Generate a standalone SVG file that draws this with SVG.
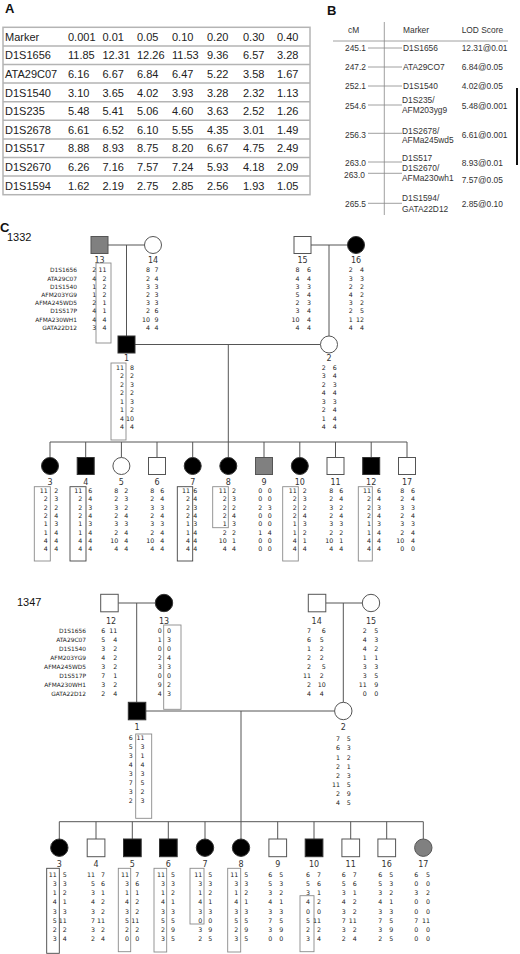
<svg xmlns="http://www.w3.org/2000/svg" width="520" height="954" viewBox="0 0 520 954">
<style>
.pl{font-family:"Liberation Sans",Arial,sans-serif;font-weight:bold;font-size:13px;fill:#111}
.ta{font-family:"Liberation Sans",Arial,sans-serif;font-size:11px;fill:#222}
.tb{font-family:"Liberation Sans",Arial,sans-serif;font-size:8.4px;fill:#333}
.e{text-anchor:end}
.fam{font-family:"Liberation Sans",Arial,sans-serif;font-size:11px;fill:#111}
.g{font-family:"DejaVu Sans",Verdana,sans-serif;font-size:6.3px;fill:#222;text-anchor:end}
.mk{font-family:"DejaVu Sans",Verdana,sans-serif;font-size:5.9px;fill:#222;text-anchor:end}
.id{font-family:"DejaVu Sans",Verdana,sans-serif;font-size:8px;fill:#333;text-anchor:middle}
.bx{fill:none;stroke:#8a8a8a;stroke-width:0.9}
.bxd{fill:none;stroke:#444;stroke-width:0.9}
.ln{stroke:#555;stroke-width:1;fill:none}
.aff{fill:#000;stroke:#333;stroke-width:1}
.un{fill:#fff;stroke:#555;stroke-width:1}
.gr{fill:#808080;stroke:#555;stroke-width:1}
.grid{stroke:#b4b4b4;stroke-width:1.5;fill:none}
.bl{stroke:#888;stroke-width:0.8;fill:none}
</style>
<rect x="0" y="0" width="520" height="954" fill="#fff"/>

<g id="panelA">
<text class="pl" x="5" y="13">A</text>
<rect class="grid" x="3" y="27.3" width="307" height="167.4"/>
<path class="grid" d="M3 45.9H310M3 64.5H310M3 83.1H310M3 101.7H310M3 120.3H310M3 138.9H310M3 157.5H310M3 176.1H310"/>
<text class="ta" x="5" y="40.7">Marker<tspan x="5" dy="18.6">D1S1656</tspan><tspan x="5" dy="18.6">ATA29C07</tspan><tspan x="5" dy="18.6">D1S1540</tspan><tspan x="5" dy="18.6">D1S235</tspan><tspan x="5" dy="18.6">D1S2678</tspan><tspan x="5" dy="18.6">D1S517</tspan><tspan x="5" dy="18.6">D1S2670</tspan><tspan x="5" dy="18.6">D1S1594</tspan></text>
<text class="ta" x="68" y="40.7">0.001<tspan x="68" dy="18.6">11.85</tspan><tspan x="68" dy="18.6">6.16</tspan><tspan x="68" dy="18.6">3.10</tspan><tspan x="68" dy="18.6">5.48</tspan><tspan x="68" dy="18.6">6.61</tspan><tspan x="68" dy="18.6">8.88</tspan><tspan x="68" dy="18.6">6.26</tspan><tspan x="68" dy="18.6">1.62</tspan></text>
<text class="ta" x="102.5" y="40.7">0.01<tspan x="102.5" dy="18.6">12.31</tspan><tspan x="102.5" dy="18.6">6.67</tspan><tspan x="102.5" dy="18.6">3.65</tspan><tspan x="102.5" dy="18.6">5.41</tspan><tspan x="102.5" dy="18.6">6.52</tspan><tspan x="102.5" dy="18.6">8.93</tspan><tspan x="102.5" dy="18.6">7.16</tspan><tspan x="102.5" dy="18.6">2.19</tspan></text>
<text class="ta" x="137" y="40.7">0.05<tspan x="137" dy="18.6">12.26</tspan><tspan x="137" dy="18.6">6.84</tspan><tspan x="137" dy="18.6">4.02</tspan><tspan x="137" dy="18.6">5.06</tspan><tspan x="137" dy="18.6">6.10</tspan><tspan x="137" dy="18.6">8.75</tspan><tspan x="137" dy="18.6">7.57</tspan><tspan x="137" dy="18.6">2.75</tspan></text>
<text class="ta" x="172" y="40.7">0.10<tspan x="172" dy="18.6">11.53</tspan><tspan x="172" dy="18.6">6.47</tspan><tspan x="172" dy="18.6">3.93</tspan><tspan x="172" dy="18.6">4.60</tspan><tspan x="172" dy="18.6">5.55</tspan><tspan x="172" dy="18.6">8.20</tspan><tspan x="172" dy="18.6">7.24</tspan><tspan x="172" dy="18.6">2.85</tspan></text>
<text class="ta" x="207" y="40.7">0.20<tspan x="207" dy="18.6">9.36</tspan><tspan x="207" dy="18.6">5.22</tspan><tspan x="207" dy="18.6">3.28</tspan><tspan x="207" dy="18.6">3.63</tspan><tspan x="207" dy="18.6">4.35</tspan><tspan x="207" dy="18.6">6.67</tspan><tspan x="207" dy="18.6">5.93</tspan><tspan x="207" dy="18.6">2.56</tspan></text>
<text class="ta" x="243" y="40.7">0.30<tspan x="243" dy="18.6">6.57</tspan><tspan x="243" dy="18.6">3.58</tspan><tspan x="243" dy="18.6">2.32</tspan><tspan x="243" dy="18.6">2.52</tspan><tspan x="243" dy="18.6">3.01</tspan><tspan x="243" dy="18.6">4.75</tspan><tspan x="243" dy="18.6">4.18</tspan><tspan x="243" dy="18.6">1.93</tspan></text>
<text class="ta" x="277" y="40.7">0.40<tspan x="277" dy="18.6">3.28</tspan><tspan x="277" dy="18.6">1.67</tspan><tspan x="277" dy="18.6">1.13</tspan><tspan x="277" dy="18.6">1.26</tspan><tspan x="277" dy="18.6">1.49</tspan><tspan x="277" dy="18.6">2.49</tspan><tspan x="277" dy="18.6">2.09</tspan><tspan x="277" dy="18.6">1.05</tspan></text>
</g>

<g id="panelB">
<text class="pl" x="327" y="15">B</text>
<path class="bl" d="M384.3 22V215M333 41H508"/>
<path class="bl" d="M368 48H402M368 67H402M368 86H402M368 105H402M368 133.3H402M368 162H402M368 173.3H402M368 203.3H402"/>
<path d="M517 88V165" stroke="#111" stroke-width="2"/>
<text class="tb" x="348" y="33">cM</text>
<text class="tb" x="403" y="33">Marker</text>
<text class="tb" x="461.7" y="33">LOD Score</text>
<text class="tb e" x="366" y="51.3">245.1<tspan x="366" y="70.3">247.2</tspan><tspan x="366" y="89.3">252.1</tspan><tspan x="366" y="109.3">254.6</tspan><tspan x="366" y="138.3">256.3</tspan><tspan x="366" y="166.3">263.0</tspan><tspan x="365" y="178.3">263.0</tspan><tspan x="366" y="207.3">265.5</tspan></text>
<text class="tb" x="403" y="51.3">D1S1656<tspan x="403" y="70.3">ATA29CO7</tspan><tspan x="403" y="89.3">D1S1540</tspan><tspan x="402" y="103.3">D1S235/</tspan><tspan x="402" y="113.3">AFM203yg9</tspan><tspan x="402" y="134">D1S2678/</tspan><tspan x="402" y="143.3">AFMa245wd5</tspan><tspan x="402" y="161.3">D1S517</tspan><tspan x="402" y="171.3">D1S2670/</tspan><tspan x="402" y="181.3">AFMa230wh1</tspan><tspan x="402" y="201.3">D1S1594/</tspan><tspan x="402" y="212">GATA22D12</tspan></text>
<text class="tb" x="461.7" y="51.3">12.31@0.01<tspan x="461.7" y="70.3">6.84@0.05</tspan><tspan x="461.7" y="89.3">4.02@0.05</tspan><tspan x="461.7" y="109.3">5.48@0.001</tspan><tspan x="461.7" y="138.3">6.61@0.001</tspan><tspan x="461.7" y="166.3">8.93@0.01</tspan><tspan x="461.7" y="183.3">7.57@0.05</tspan><tspan x="461.7" y="207.3">2.85@0.10</tspan></text>
</g>

<text class="pl" x="0" y="232">C</text>
<text class="fam" x="7" y="241">1332</text>
<text class="fam" x="17" y="606">1347</text>

<g id="connectors">
<path class="ln" d="M108 245H144.5M126.5 245V336M311 245H347.5M329 245V336M135 344.5H320.5M228.3 344.5V442M50 442H407M50 442V457.5M85.7 442V457.5M121.4 442V457.5M157 442V457.5M192.7 442V457.5M228.3 442V457.5M264 442V457.5M299.8 442V457.5M335.5 442V457.5M371.2 442V457.5M407 442V457.5"/>
<path class="ln" d="M118.2 603H155.3M136.7 603V702.3M325.8 603H362.3M343.3 603V702.3M145.8 711H334.6M241 711V821.7M59.3 821.7H423.3M59.3 821.7V839M96 821.7V839M132.3 821.7V839M168.3 821.7V839M205 821.7V839M241 821.7V839M277.7 821.7V839M314 821.7V839M350.7 821.7V839M386.7 821.7V839M423.3 821.7V839"/>
</g>

<g id="markers1332">
<text class="mk" x="77" y="272.3">D1S1656<tspan x="77" dy="8.2">ATA29C07</tspan><tspan x="77" dy="8.2">D1S1540</tspan><tspan x="77" dy="8.2">AFM203YG9</tspan><tspan x="77" dy="8.2">AFMA245WD5</tspan><tspan x="77" dy="8.2">D1S517P</tspan><tspan x="77" dy="8.2">AFMA230WH1</tspan><tspan x="77" dy="8.2">GATA22D12</tspan></text>
</g>

<g id="f1332-13">
<rect class="gr" x="91" y="236.5" width="17" height="17"/>
<text class="id" x="99.5" y="263">13</text>
<rect class="bx" x="96" y="263" width="15" height="80"/>
<text class="g" x="96.3" y="272.3">2<tspan x="96.3" dy="8.2">4</tspan><tspan x="96.3" dy="8.2">1</tspan><tspan x="96.3" dy="8.2">1</tspan><tspan x="96.3" dy="8.2">2</tspan><tspan x="96.3" dy="8.2">4</tspan><tspan x="96.3" dy="8.2">4</tspan><tspan x="96.3" dy="8.2">3</tspan></text>
<text class="g" x="106.5" y="272.3">11<tspan x="106.5" dy="8.2">2</tspan><tspan x="106.5" dy="8.2">2</tspan><tspan x="106.5" dy="8.2">2</tspan><tspan x="106.5" dy="8.2">1</tspan><tspan x="106.5" dy="8.2">1</tspan><tspan x="106.5" dy="8.2">4</tspan><tspan x="106.5" dy="8.2">4</tspan></text>
</g>
<g id="f1332-14">
<circle class="un" cx="153" cy="245" r="8.5"/>
<text class="id" x="153" y="263">14</text>
<text class="g" x="150" y="272.3">8<tspan x="150" dy="8.2">2</tspan><tspan x="150" dy="8.2">3</tspan><tspan x="150" dy="8.2">2</tspan><tspan x="150" dy="8.2">3</tspan><tspan x="150" dy="8.2">2</tspan><tspan x="150" dy="8.2">10</tspan><tspan x="150" dy="8.2">4</tspan></text>
<text class="g" x="158.5" y="272.3">7<tspan x="158.5" dy="8.2">4</tspan><tspan x="158.5" dy="8.2">3</tspan><tspan x="158.5" dy="8.2">3</tspan><tspan x="158.5" dy="8.2">3</tspan><tspan x="158.5" dy="8.2">6</tspan><tspan x="158.5" dy="8.2">9</tspan><tspan x="158.5" dy="8.2">4</tspan></text>
</g>
<g id="f1332-15">
<rect class="un" x="294" y="236.5" width="17" height="17"/>
<text class="id" x="302.5" y="263">15</text>
<text class="g" x="299.5" y="272.3">8<tspan x="299.5" dy="8.2">4</tspan><tspan x="299.5" dy="8.2">3</tspan><tspan x="299.5" dy="8.2">5</tspan><tspan x="299.5" dy="8.2">2</tspan><tspan x="299.5" dy="8.2">3</tspan><tspan x="299.5" dy="8.2">10</tspan><tspan x="299.5" dy="8.2">4</tspan></text>
<text class="g" x="311" y="272.3">6<tspan x="311" dy="8.2">4</tspan><tspan x="311" dy="8.2">3</tspan><tspan x="311" dy="8.2">4</tspan><tspan x="311" dy="8.2">3</tspan><tspan x="311" dy="8.2">4</tspan><tspan x="311" dy="8.2">4</tspan><tspan x="311" dy="8.2">4</tspan></text>
</g>
<g id="f1332-16">
<circle class="aff" cx="356" cy="245" r="8.5"/>
<text class="id" x="356" y="263">16</text>
<text class="g" x="352.7" y="272.3">2<tspan x="352.7" dy="8.2">3</tspan><tspan x="352.7" dy="8.2">2</tspan><tspan x="352.7" dy="8.2">4</tspan><tspan x="352.7" dy="8.2">3</tspan><tspan x="352.7" dy="8.2">2</tspan><tspan x="352.7" dy="8.2">1</tspan><tspan x="352.7" dy="8.2">4</tspan></text>
<text class="g" x="364" y="272.3">4<tspan x="364" dy="8.2">3</tspan><tspan x="364" dy="8.2">2</tspan><tspan x="364" dy="8.2">2</tspan><tspan x="364" dy="8.2">2</tspan><tspan x="364" dy="8.2">5</tspan><tspan x="364" dy="8.2">12</tspan><tspan x="364" dy="8.2">4</tspan></text>
</g>
<g id="f1332-1">
<rect class="aff" x="118" y="336" width="17" height="17"/>
<text class="id" x="126.5" y="360.5">1</text>
<rect class="bx" x="111" y="363" width="15" height="77"/>
<text class="g" x="124" y="369.6">11<tspan x="124" dy="8.5">2</tspan><tspan x="124" dy="8.5">2</tspan><tspan x="124" dy="8.5">2</tspan><tspan x="124" dy="8.5">1</tspan><tspan x="124" dy="8.5">1</tspan><tspan x="124" dy="8.5">4</tspan><tspan x="124" dy="8.5">4</tspan></text>
<text class="g" x="134" y="369.6">8<tspan x="134" dy="8.5">2</tspan><tspan x="134" dy="8.5">3</tspan><tspan x="134" dy="8.5">2</tspan><tspan x="134" dy="8.5">3</tspan><tspan x="134" dy="8.5">2</tspan><tspan x="134" dy="8.5">10</tspan><tspan x="134" dy="8.5">4</tspan></text>
</g>
<g id="f1332-2">
<circle class="un" cx="329" cy="344.5" r="8.5"/>
<text class="id" x="329" y="360.5">2</text>
<text class="g" x="325.7" y="369.6">2<tspan x="325.7" dy="8.5">3</tspan><tspan x="325.7" dy="8.5">2</tspan><tspan x="325.7" dy="8.5">4</tspan><tspan x="325.7" dy="8.5">3</tspan><tspan x="325.7" dy="8.5">2</tspan><tspan x="325.7" dy="8.5">1</tspan><tspan x="325.7" dy="8.5">4</tspan></text>
<text class="g" x="336.7" y="369.6">6<tspan x="336.7" dy="8.5">4</tspan><tspan x="336.7" dy="8.5">3</tspan><tspan x="336.7" dy="8.5">4</tspan><tspan x="336.7" dy="8.5">3</tspan><tspan x="336.7" dy="8.5">4</tspan><tspan x="336.7" dy="8.5">4</tspan><tspan x="336.7" dy="8.5">4</tspan></text>
</g>

<g id="f1332-3">
<circle class="aff" cx="50" cy="466" r="8.5"/>
<text class="id" x="50" y="484.5">3</text>
<rect class="bx" x="34.3" y="486.7" width="16" height="74.3"/>
<text class="g" x="47.7" y="493">11<tspan x="47.7" dy="8.35">2</tspan><tspan x="47.7" dy="8.35">2</tspan><tspan x="47.7" dy="8.35">2</tspan><tspan x="47.7" dy="8.35">1</tspan><tspan x="47.7" dy="8.35">1</tspan><tspan x="47.7" dy="8.35">4</tspan><tspan x="47.7" dy="8.35">4</tspan></text>
<text class="g" x="58.3" y="493">2<tspan x="58.3" dy="8.35">3</tspan><tspan x="58.3" dy="8.35">2</tspan><tspan x="58.3" dy="8.35">4</tspan><tspan x="58.3" dy="8.35">3</tspan><tspan x="58.3" dy="8.35">4</tspan><tspan x="58.3" dy="8.35">4</tspan><tspan x="58.3" dy="8.35">4</tspan></text>
</g>
<g id="f1332-4">
<rect class="aff" x="77.2" y="457.5" width="17" height="17"/>
<text class="id" x="85.7" y="484.5">4</text>
<rect class="bxd" x="70" y="486.7" width="16" height="74.3"/>
<text class="g" x="82.3" y="493">11<tspan x="82.3" dy="8.35">2</tspan><tspan x="82.3" dy="8.35">2</tspan><tspan x="82.3" dy="8.35">2</tspan><tspan x="82.3" dy="8.35">1</tspan><tspan x="82.3" dy="8.35">1</tspan><tspan x="82.3" dy="8.35">4</tspan><tspan x="82.3" dy="8.35">4</tspan></text>
<text class="g" x="92.3" y="493">6<tspan x="92.3" dy="8.35">4</tspan><tspan x="92.3" dy="8.35">3</tspan><tspan x="92.3" dy="8.35">4</tspan><tspan x="92.3" dy="8.35">3</tspan><tspan x="92.3" dy="8.35">4</tspan><tspan x="92.3" dy="8.35">4</tspan><tspan x="92.3" dy="8.35">4</tspan></text>
</g>
<g id="f1332-5">
<circle class="un" cx="121.4" cy="466" r="8.5"/>
<text class="id" x="121.4" y="484.5">5</text>
<text class="g" x="118.3" y="493">8<tspan x="118.3" dy="8.35">2</tspan><tspan x="118.3" dy="8.35">3</tspan><tspan x="118.3" dy="8.35">2</tspan><tspan x="118.3" dy="8.35">3</tspan><tspan x="118.3" dy="8.35">2</tspan><tspan x="118.3" dy="8.35">10</tspan><tspan x="118.3" dy="8.35">4</tspan></text>
<text class="g" x="128.3" y="493">2<tspan x="128.3" dy="8.35">3</tspan><tspan x="128.3" dy="8.35">2</tspan><tspan x="128.3" dy="8.35">4</tspan><tspan x="128.3" dy="8.35">3</tspan><tspan x="128.3" dy="8.35">4</tspan><tspan x="128.3" dy="8.35">4</tspan><tspan x="128.3" dy="8.35">4</tspan></text>
</g>
<g id="f1332-6">
<rect class="un" x="148.5" y="457.5" width="17" height="17"/>
<text class="id" x="157" y="484.5">6</text>
<text class="g" x="154.3" y="493">8<tspan x="154.3" dy="8.35">2</tspan><tspan x="154.3" dy="8.35">3</tspan><tspan x="154.3" dy="8.35">2</tspan><tspan x="154.3" dy="8.35">3</tspan><tspan x="154.3" dy="8.35">2</tspan><tspan x="154.3" dy="8.35">10</tspan><tspan x="154.3" dy="8.35">4</tspan></text>
<text class="g" x="164.3" y="493">6<tspan x="164.3" dy="8.35">4</tspan><tspan x="164.3" dy="8.35">3</tspan><tspan x="164.3" dy="8.35">4</tspan><tspan x="164.3" dy="8.35">3</tspan><tspan x="164.3" dy="8.35">4</tspan><tspan x="164.3" dy="8.35">4</tspan><tspan x="164.3" dy="8.35">4</tspan></text>
</g>
<g id="f1332-7">
<circle class="aff" cx="192.7" cy="466" r="8.5"/>
<text class="id" x="192.7" y="484.5">7</text>
<rect class="bxd" x="177.3" y="486.7" width="15.4" height="74.3"/>
<text class="g" x="190" y="493">11<tspan x="190" dy="8.35">2</tspan><tspan x="190" dy="8.35">2</tspan><tspan x="190" dy="8.35">2</tspan><tspan x="190" dy="8.35">1</tspan><tspan x="190" dy="8.35">1</tspan><tspan x="190" dy="8.35">4</tspan><tspan x="190" dy="8.35">4</tspan></text>
<text class="g" x="197.2" y="493">6<tspan x="197.2" dy="8.35">4</tspan><tspan x="197.2" dy="8.35">3</tspan><tspan x="197.2" dy="8.35">4</tspan><tspan x="197.2" dy="8.35">3</tspan><tspan x="197.2" dy="8.35">4</tspan><tspan x="197.2" dy="8.35">4</tspan><tspan x="197.2" dy="8.35">4</tspan></text>
</g>
<g id="f1332-8">
<circle class="aff" cx="228.3" cy="466" r="8.5"/>
<text class="id" x="228.3" y="484.5">8</text>
<rect class="bx" x="212.7" y="486.7" width="15.6" height="41"/>
<text class="g" x="226.7" y="493">11<tspan x="226.7" dy="8.35">2</tspan><tspan x="226.7" dy="8.35">2</tspan><tspan x="226.7" dy="8.35">2</tspan><tspan x="226.7" dy="8.35">1</tspan><tspan x="226.7" dy="8.35">2</tspan><tspan x="226.7" dy="8.35">10</tspan><tspan x="226.7" dy="8.35">4</tspan></text>
<text class="g" x="236" y="493">2<tspan x="236" dy="8.35">3</tspan><tspan x="236" dy="8.35">2</tspan><tspan x="236" dy="8.35">4</tspan><tspan x="236" dy="8.35">3</tspan><tspan x="236" dy="8.35">2</tspan><tspan x="236" dy="8.35">1</tspan><tspan x="236" dy="8.35">4</tspan></text>
</g>
<g id="f1332-9">
<rect class="gr" x="255.5" y="457.5" width="17" height="17"/>
<text class="id" x="264" y="484.5">9</text>
<text class="g" x="262.3" y="493">0<tspan x="262.3" dy="8.35">0</tspan><tspan x="262.3" dy="8.35">2</tspan><tspan x="262.3" dy="8.35">0</tspan><tspan x="262.3" dy="8.35">0</tspan><tspan x="262.3" dy="8.35">1</tspan><tspan x="262.3" dy="8.35">0</tspan><tspan x="262.3" dy="8.35">0</tspan></text>
<text class="g" x="271.7" y="493">0<tspan x="271.7" dy="8.35">0</tspan><tspan x="271.7" dy="8.35">3</tspan><tspan x="271.7" dy="8.35">0</tspan><tspan x="271.7" dy="8.35">0</tspan><tspan x="271.7" dy="8.35">4</tspan><tspan x="271.7" dy="8.35">0</tspan><tspan x="271.7" dy="8.35">0</tspan></text>
</g>
<g id="f1332-10">
<circle class="aff" cx="299.8" cy="466" r="8.5"/>
<text class="id" x="299.8" y="484.5">10</text>
<rect class="bx" x="282.7" y="486.7" width="15.6" height="74.3"/>
<text class="g" x="296.7" y="493">11<tspan x="296.7" dy="8.35">2</tspan><tspan x="296.7" dy="8.35">2</tspan><tspan x="296.7" dy="8.35">2</tspan><tspan x="296.7" dy="8.35">1</tspan><tspan x="296.7" dy="8.35">1</tspan><tspan x="296.7" dy="8.35">4</tspan><tspan x="296.7" dy="8.35">4</tspan></text>
<text class="g" x="306.7" y="493">2<tspan x="306.7" dy="8.35">3</tspan><tspan x="306.7" dy="8.35">2</tspan><tspan x="306.7" dy="8.35">4</tspan><tspan x="306.7" dy="8.35">3</tspan><tspan x="306.7" dy="8.35">2</tspan><tspan x="306.7" dy="8.35">1</tspan><tspan x="306.7" dy="8.35">4</tspan></text>
</g>
<g id="f1332-11">
<rect class="un" x="327" y="457.5" width="17" height="17"/>
<text class="id" x="335.5" y="484.5">11</text>
<text class="g" x="333.3" y="493">8<tspan x="333.3" dy="8.35">2</tspan><tspan x="333.3" dy="8.35">3</tspan><tspan x="333.3" dy="8.35">2</tspan><tspan x="333.3" dy="8.35">3</tspan><tspan x="333.3" dy="8.35">2</tspan><tspan x="333.3" dy="8.35">10</tspan><tspan x="333.3" dy="8.35">4</tspan></text>
<text class="g" x="343.3" y="493">6<tspan x="343.3" dy="8.35">4</tspan><tspan x="343.3" dy="8.35">2</tspan><tspan x="343.3" dy="8.35">4</tspan><tspan x="343.3" dy="8.35">3</tspan><tspan x="343.3" dy="8.35">2</tspan><tspan x="343.3" dy="8.35">1</tspan><tspan x="343.3" dy="8.35">4</tspan></text>
</g>
<g id="f1332-12">
<rect class="aff" x="362.7" y="457.5" width="17" height="17"/>
<text class="id" x="371.2" y="484.5">12</text>
<rect class="bx" x="358.3" y="486.7" width="14" height="74.3"/>
<text class="g" x="371" y="493">11<tspan x="371" dy="8.35">2</tspan><tspan x="371" dy="8.35">2</tspan><tspan x="371" dy="8.35">2</tspan><tspan x="371" dy="8.35">1</tspan><tspan x="371" dy="8.35">1</tspan><tspan x="371" dy="8.35">4</tspan><tspan x="371" dy="8.35">4</tspan></text>
<text class="g" x="381" y="493">6<tspan x="381" dy="8.35">4</tspan><tspan x="381" dy="8.35">3</tspan><tspan x="381" dy="8.35">4</tspan><tspan x="381" dy="8.35">3</tspan><tspan x="381" dy="8.35">4</tspan><tspan x="381" dy="8.35">4</tspan><tspan x="381" dy="8.35">4</tspan></text>
</g>
<g id="f1332-17">
<rect class="un" x="398.5" y="457.5" width="17" height="17"/>
<text class="id" x="407" y="484.5">17</text>
<text class="g" x="404.3" y="493">8<tspan x="404.3" dy="8.35">2</tspan><tspan x="404.3" dy="8.35">3</tspan><tspan x="404.3" dy="8.35">2</tspan><tspan x="404.3" dy="8.35">3</tspan><tspan x="404.3" dy="8.35">2</tspan><tspan x="404.3" dy="8.35">10</tspan><tspan x="404.3" dy="8.35">0</tspan></text>
<text class="g" x="415" y="493">6<tspan x="415" dy="8.35">4</tspan><tspan x="415" dy="8.35">3</tspan><tspan x="415" dy="8.35">4</tspan><tspan x="415" dy="8.35">3</tspan><tspan x="415" dy="8.35">4</tspan><tspan x="415" dy="8.35">4</tspan><tspan x="415" dy="8.35">0</tspan></text>
</g>

<g id="markers1347">
<text class="mk" x="86" y="633">D1S1656<tspan x="86" dy="9">ATA29C07</tspan><tspan x="86" dy="9">D1S1540</tspan><tspan x="86" dy="9">AFM203YG9</tspan><tspan x="86" dy="9">AFMA245WD5</tspan><tspan x="86" dy="9">D1S517P</tspan><tspan x="86" dy="9">AFMA230WH1</tspan><tspan x="86" dy="9">GATA22D12</tspan></text>
</g>
<g id="f1347-12">
<rect class="un" x="100.7" y="594.3" width="17.5" height="17.5"/>
<text class="id" x="111" y="623.5">12</text>
<text class="g" x="105.3" y="633">6<tspan x="105.3" dy="9">5</tspan><tspan x="105.3" dy="9">3</tspan><tspan x="105.3" dy="9">4</tspan><tspan x="105.3" dy="9">3</tspan><tspan x="105.3" dy="9">7</tspan><tspan x="105.3" dy="9">3</tspan><tspan x="105.3" dy="9">2</tspan></text>
<text class="g" x="117.3" y="633">11<tspan x="117.3" dy="9">4</tspan><tspan x="117.3" dy="9">2</tspan><tspan x="117.3" dy="9">2</tspan><tspan x="117.3" dy="9">2</tspan><tspan x="117.3" dy="9">1</tspan><tspan x="117.3" dy="9">2</tspan><tspan x="117.3" dy="9">4</tspan></text>
</g>
<g id="f1347-13">
<circle class="aff" cx="164" cy="603" r="8.7"/>
<text class="id" x="164" y="623.5">13</text>
<rect class="bx" x="163.7" y="625" width="17.3" height="84.3"/>
<text class="g" x="161.7" y="633">0<tspan x="161.7" dy="9">1</tspan><tspan x="161.7" dy="9">0</tspan><tspan x="161.7" dy="9">2</tspan><tspan x="161.7" dy="9">3</tspan><tspan x="161.7" dy="9">0</tspan><tspan x="161.7" dy="9">9</tspan><tspan x="161.7" dy="9">4</tspan></text>
<text class="g" x="171" y="633">0<tspan x="171" dy="9">3</tspan><tspan x="171" dy="9">0</tspan><tspan x="171" dy="9">4</tspan><tspan x="171" dy="9">3</tspan><tspan x="171" dy="9">0</tspan><tspan x="171" dy="9">2</tspan><tspan x="171" dy="9">3</tspan></text>
</g>
<g id="f1347-14">
<rect class="un" x="308.3" y="594.3" width="17.5" height="17.5"/>
<text class="id" x="316.7" y="623.5">14</text>
<text class="g" x="311" y="633">7<tspan x="311" dy="9">6</tspan><tspan x="311" dy="9">1</tspan><tspan x="311" dy="9">2</tspan><tspan x="311" dy="9">2</tspan><tspan x="311" dy="9">11</tspan><tspan x="311" dy="9">2</tspan><tspan x="311" dy="9">4</tspan></text>
<text class="g" x="325.7" y="633">6<tspan x="323.7" dy="9">5</tspan><tspan x="323.7" dy="9">2</tspan><tspan x="323.7" dy="9">2</tspan><tspan x="325.7" dy="9">5</tspan><tspan x="323.7" dy="9">2</tspan><tspan x="325.7" dy="9">10</tspan><tspan x="323.7" dy="9">4</tspan></text>
</g>
<g id="f1347-15">
<circle class="un" cx="371" cy="603" r="8.7"/>
<text class="id" x="371" y="623.5">15</text>
<text class="g" x="366.7" y="633">2<tspan x="366.7" dy="9">4</tspan><tspan x="366.7" dy="9">4</tspan><tspan x="366.7" dy="9">1</tspan><tspan x="366.7" dy="9">3</tspan><tspan x="366.7" dy="9">3</tspan><tspan x="366.7" dy="9">11</tspan><tspan x="366.7" dy="9">0</tspan></text>
<text class="g" x="378.3" y="633">5<tspan x="378.3" dy="9">3</tspan><tspan x="378.3" dy="9">2</tspan><tspan x="378.3" dy="9">1</tspan><tspan x="378.3" dy="9">3</tspan><tspan x="378.3" dy="9">5</tspan><tspan x="378.3" dy="9">9</tspan><tspan x="378.3" dy="9">0</tspan></text>
</g>
<g id="f1347-1">
<rect class="aff" x="128.3" y="702.3" width="17.5" height="17.5"/>
<text class="id" x="137" y="729.5">1</text>
<rect class="bx" x="135.7" y="734" width="16" height="84.3"/>
<text class="g" x="132.7" y="740">6<tspan x="132.7" dy="9">5</tspan><tspan x="132.7" dy="9">3</tspan><tspan x="132.7" dy="9">4</tspan><tspan x="132.7" dy="9">3</tspan><tspan x="132.7" dy="9">7</tspan><tspan x="132.7" dy="9">3</tspan><tspan x="132.7" dy="9">2</tspan></text>
<text class="g" x="144.5" y="740">11<tspan x="144.5" dy="9">3</tspan><tspan x="144.5" dy="9">1</tspan><tspan x="144.5" dy="9">4</tspan><tspan x="144.5" dy="9">3</tspan><tspan x="144.5" dy="9">5</tspan><tspan x="144.5" dy="9">2</tspan><tspan x="144.5" dy="9">3</tspan></text>
</g>
<g id="f1347-2">
<circle class="un" cx="343.3" cy="711" r="8.7"/>
<text class="id" x="343.3" y="729.5">2</text>
<text class="g" x="340" y="741.3">7<tspan x="340" dy="9.1">6</tspan><tspan x="340" dy="9.1">1</tspan><tspan x="340" dy="9.1">2</tspan><tspan x="340" dy="9.1">2</tspan><tspan x="340" dy="9.1">11</tspan><tspan x="340" dy="9.1">2</tspan><tspan x="340" dy="9.1">4</tspan></text>
<text class="g" x="350.7" y="741.3">5<tspan x="350.7" dy="9.1">3</tspan><tspan x="350.7" dy="9.1">2</tspan><tspan x="350.7" dy="9.1">1</tspan><tspan x="350.7" dy="9.1">3</tspan><tspan x="350.7" dy="9.1">5</tspan><tspan x="350.7" dy="9.1">9</tspan><tspan x="350.7" dy="9.1">5</tspan></text>
</g>

<g id="f1347-3">
<circle class="aff" cx="59.3" cy="847.7" r="8.7"/>
<text class="id" x="59.3" y="867">3</text>
<rect class="bxd" x="46.7" y="868.3" width="12.6" height="85"/>
<text class="g" x="56.7" y="877.3">11<tspan x="56.7" dy="9.05">3</tspan><tspan x="56.7" dy="9.05">1</tspan><tspan x="56.7" dy="9.05">4</tspan><tspan x="56.7" dy="9.05">3</tspan><tspan x="56.7" dy="9.05">5</tspan><tspan x="56.7" dy="9.05">2</tspan><tspan x="56.7" dy="9.05">3</tspan></text>
<text class="g" x="66.7" y="877.3">5<tspan x="66.7" dy="9.05">3</tspan><tspan x="66.7" dy="9.05">2</tspan><tspan x="66.7" dy="9.05">1</tspan><tspan x="66.7" dy="9.05">3</tspan><tspan x="66.7" dy="9.05">11</tspan><tspan x="66.7" dy="9.05">2</tspan><tspan x="66.7" dy="9.05">4</tspan></text>
</g>
<g id="f1347-4">
<rect class="un" x="87.2" y="839" width="17.7" height="17.7"/>
<text class="id" x="96" y="867">4</text>
<text class="g" x="95" y="877.3">11<tspan x="95" dy="9.05">5</tspan><tspan x="95" dy="9.05">3</tspan><tspan x="95" dy="9.05">4</tspan><tspan x="95" dy="9.05">3</tspan><tspan x="95" dy="9.05">7</tspan><tspan x="95" dy="9.05">3</tspan><tspan x="95" dy="9.05">2</tspan></text>
<text class="g" x="105" y="877.3">7<tspan x="105" dy="9.05">6</tspan><tspan x="105" dy="9.05">1</tspan><tspan x="105" dy="9.05">2</tspan><tspan x="105" dy="9.05">2</tspan><tspan x="105" dy="9.05">11</tspan><tspan x="105" dy="9.05">2</tspan><tspan x="105" dy="9.05">4</tspan></text>
</g>
<g id="f1347-5">
<rect class="aff" x="123.5" y="839" width="17.7" height="17.7"/>
<text class="id" x="132.3" y="867">5</text>
<rect class="bx" x="118.3" y="868.3" width="12.4" height="83.4"/>
<text class="g" x="129" y="877.3">11<tspan x="129" dy="9.05">3</tspan><tspan x="129" dy="9.05">1</tspan><tspan x="129" dy="9.05">4</tspan><tspan x="129" dy="9.05">3</tspan><tspan x="129" dy="9.05">5</tspan><tspan x="129" dy="9.05">2</tspan><tspan x="129" dy="9.05">0</tspan></text>
<text class="g" x="139.3" y="877.3">7<tspan x="139.3" dy="9.05">6</tspan><tspan x="139.3" dy="9.05">1</tspan><tspan x="139.3" dy="9.05">2</tspan><tspan x="139.3" dy="9.05">2</tspan><tspan x="139.3" dy="9.05">11</tspan><tspan x="139.3" dy="9.05">2</tspan><tspan x="139.3" dy="9.05">0</tspan></text>
</g>
<g id="f1347-6">
<rect class="aff" x="159.5" y="839" width="17.7" height="17.7"/>
<text class="id" x="168.3" y="867">6</text>
<rect class="bx" x="154" y="868.3" width="12.7" height="83.7"/>
<text class="g" x="165" y="877.3">11<tspan x="165" dy="9.05">3</tspan><tspan x="165" dy="9.05">1</tspan><tspan x="165" dy="9.05">4</tspan><tspan x="165" dy="9.05">3</tspan><tspan x="165" dy="9.05">5</tspan><tspan x="165" dy="9.05">2</tspan><tspan x="165" dy="9.05">3</tspan></text>
<text class="g" x="175" y="877.3">5<tspan x="175" dy="9.05">3</tspan><tspan x="175" dy="9.05">2</tspan><tspan x="175" dy="9.05">1</tspan><tspan x="175" dy="9.05">3</tspan><tspan x="175" dy="9.05">5</tspan><tspan x="175" dy="9.05">9</tspan><tspan x="175" dy="9.05">5</tspan></text>
</g>
<g id="f1347-7">
<circle class="aff" cx="205" cy="847.7" r="8.7"/>
<text class="id" x="205" y="867">7</text>
<rect class="bx" x="190" y="868.3" width="14" height="55.7"/>
<text class="g" x="202.3" y="877.3">11<tspan x="202.3" dy="9.05">3</tspan><tspan x="202.3" dy="9.05">1</tspan><tspan x="202.3" dy="9.05">4</tspan><tspan x="202.3" dy="9.05">3</tspan><tspan x="202.3" dy="9.05">0</tspan><tspan x="202.3" dy="9.05">3</tspan><tspan x="202.3" dy="9.05">2</tspan></text>
<text class="g" x="212.3" y="877.3">5<tspan x="212.3" dy="9.05">3</tspan><tspan x="212.3" dy="9.05">2</tspan><tspan x="212.3" dy="9.05">1</tspan><tspan x="212.3" dy="9.05">3</tspan><tspan x="212.3" dy="9.05">0</tspan><tspan x="212.3" dy="9.05">9</tspan><tspan x="212.3" dy="9.05">5</tspan></text>
</g>
<g id="f1347-8">
<circle class="aff" cx="241" cy="847.7" r="8.7"/>
<text class="id" x="241" y="867">8</text>
<rect class="bx" x="227.7" y="868.3" width="13" height="83.7"/>
<text class="g" x="238.3" y="877.3">11<tspan x="238.3" dy="9.05">3</tspan><tspan x="238.3" dy="9.05">1</tspan><tspan x="238.3" dy="9.05">4</tspan><tspan x="238.3" dy="9.05">3</tspan><tspan x="238.3" dy="9.05">5</tspan><tspan x="238.3" dy="9.05">2</tspan><tspan x="238.3" dy="9.05">3</tspan></text>
<text class="g" x="248.3" y="877.3">5<tspan x="248.3" dy="9.05">3</tspan><tspan x="248.3" dy="9.05">2</tspan><tspan x="248.3" dy="9.05">1</tspan><tspan x="248.3" dy="9.05">3</tspan><tspan x="248.3" dy="9.05">5</tspan><tspan x="248.3" dy="9.05">9</tspan><tspan x="248.3" dy="9.05">5</tspan></text>
</g>
<g id="f1347-9">
<rect class="un" x="268.9" y="839" width="17.7" height="17.7"/>
<text class="id" x="277.7" y="867">9</text>
<text class="g" x="272.3" y="877.3">6<tspan x="272.3" dy="9.05">5</tspan><tspan x="272.3" dy="9.05">3</tspan><tspan x="272.3" dy="9.05">4</tspan><tspan x="272.3" dy="9.05">3</tspan><tspan x="272.3" dy="9.05">7</tspan><tspan x="272.3" dy="9.05">3</tspan><tspan x="272.3" dy="9.05">0</tspan></text>
<text class="g" x="283.3" y="877.3">5<tspan x="283.3" dy="9.05">3</tspan><tspan x="283.3" dy="9.05">2</tspan><tspan x="283.3" dy="9.05">1</tspan><tspan x="283.3" dy="9.05">3</tspan><tspan x="283.3" dy="9.05">5</tspan><tspan x="283.3" dy="9.05">9</tspan><tspan x="283.3" dy="9.05">0</tspan></text>
</g>
<g id="f1347-10">
<rect class="aff" x="305.2" y="839" width="17.7" height="17.7"/>
<text class="id" x="314" y="867">10</text>
<rect class="bx" x="300" y="895.7" width="14" height="56"/>
<text class="g" x="310" y="877.3">6<tspan x="310" dy="9.05">5</tspan><tspan x="310" dy="9.05">3</tspan><tspan x="310" dy="9.05">4</tspan><tspan x="310" dy="9.05">0</tspan><tspan x="310" dy="9.05">5</tspan><tspan x="310" dy="9.05">2</tspan><tspan x="310" dy="9.05">3</tspan></text>
<text class="g" x="321" y="877.3">7<tspan x="321" dy="9.05">6</tspan><tspan x="321" dy="9.05">1</tspan><tspan x="321" dy="9.05">2</tspan><tspan x="321" dy="9.05">0</tspan><tspan x="321" dy="9.05">11</tspan><tspan x="321" dy="9.05">2</tspan><tspan x="321" dy="9.05">4</tspan></text>
</g>
<g id="f1347-11">
<rect class="un" x="341.9" y="839" width="17.7" height="17.7"/>
<text class="id" x="350.7" y="867">11</text>
<text class="g" x="345.7" y="877.3">6<tspan x="345.7" dy="9.05">5</tspan><tspan x="345.7" dy="9.05">3</tspan><tspan x="345.7" dy="9.05">4</tspan><tspan x="345.7" dy="9.05">3</tspan><tspan x="345.7" dy="9.05">7</tspan><tspan x="345.7" dy="9.05">3</tspan><tspan x="345.7" dy="9.05">2</tspan></text>
<text class="g" x="356.7" y="877.3">7<tspan x="356.7" dy="9.05">6</tspan><tspan x="356.7" dy="9.05">1</tspan><tspan x="356.7" dy="9.05">2</tspan><tspan x="356.7" dy="9.05">2</tspan><tspan x="356.7" dy="9.05">11</tspan><tspan x="356.7" dy="9.05">2</tspan><tspan x="356.7" dy="9.05">4</tspan></text>
</g>
<g id="f1347-16">
<rect class="un" x="377.9" y="839" width="17.7" height="17.7"/>
<text class="id" x="386.7" y="867">16</text>
<text class="g" x="382.3" y="877.3">6<tspan x="382.3" dy="9.05">5</tspan><tspan x="382.3" dy="9.05">3</tspan><tspan x="382.3" dy="9.05">4</tspan><tspan x="382.3" dy="9.05">3</tspan><tspan x="382.3" dy="9.05">7</tspan><tspan x="382.3" dy="9.05">3</tspan><tspan x="382.3" dy="9.05">2</tspan></text>
<text class="g" x="393.3" y="877.3">5<tspan x="393.3" dy="9.05">3</tspan><tspan x="393.3" dy="9.05">2</tspan><tspan x="393.3" dy="9.05">1</tspan><tspan x="393.3" dy="9.05">3</tspan><tspan x="393.3" dy="9.05">5</tspan><tspan x="393.3" dy="9.05">9</tspan><tspan x="393.3" dy="9.05">5</tspan></text>
</g>
<g id="f1347-17">
<circle class="gr" cx="423.3" cy="847.7" r="8.7" fill="#909090"/>
<text class="id" x="423.3" y="867">17</text>
<text class="g" x="418.3" y="877.3">6<tspan x="418.3" dy="9.05">0</tspan><tspan x="418.3" dy="9.05">3</tspan><tspan x="418.3" dy="9.05">0</tspan><tspan x="418.3" dy="9.05">0</tspan><tspan x="418.3" dy="9.05">7</tspan><tspan x="418.3" dy="9.05">0</tspan><tspan x="418.3" dy="9.05">0</tspan></text>
<text class="g" x="430" y="877.3">5<tspan x="430" dy="9.05">0</tspan><tspan x="430" dy="9.05">2</tspan><tspan x="430" dy="9.05">0</tspan><tspan x="430" dy="9.05">0</tspan><tspan x="430" dy="9.05">11</tspan><tspan x="430" dy="9.05">0</tspan><tspan x="430" dy="9.05">0</tspan></text>
</g>
</svg>
